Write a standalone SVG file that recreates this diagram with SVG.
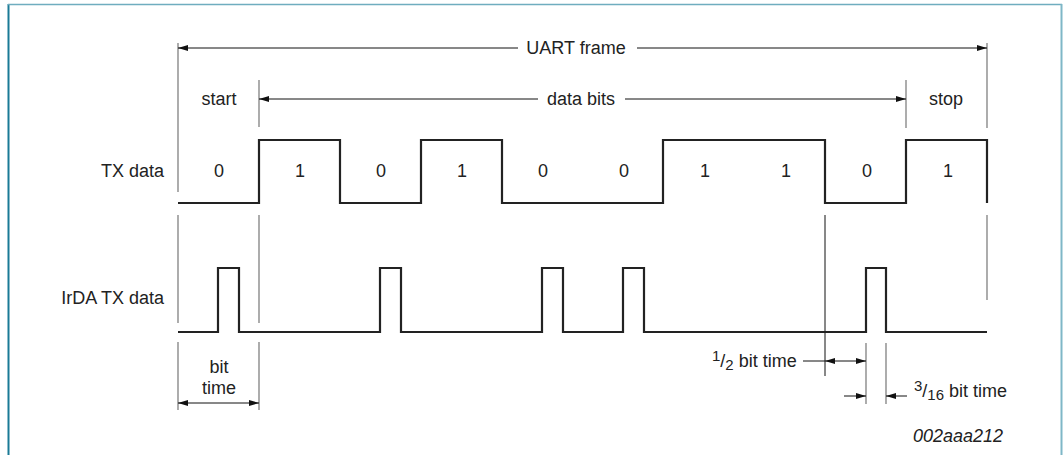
<svg xmlns="http://www.w3.org/2000/svg" width="1063" height="455" viewBox="0 0 1063 455">
<style>
text{font-family:"Liberation Sans",Arial,sans-serif;font-size:18px;fill:#222}
.c{text-anchor:middle}
.r{text-anchor:end}
.sm{font-size:15px}
.guide{stroke:#8a8a8a;stroke-width:1.4;fill:none}
.dim{stroke:#111;stroke-width:1;fill:none}
.wave{stroke:#222;stroke-width:2.2;fill:none;stroke-linejoin:miter}
.arr{stroke:#111;stroke-width:1;fill:none;marker-end:url(#ah)}
.arr2{stroke:#111;stroke-width:1;fill:none;marker-start:url(#ah);marker-end:url(#ah)}
</style>
<defs>
<marker id="ah" viewBox="0 0 10 6" refX="10" refY="3" markerWidth="10" markerHeight="6" markerUnits="userSpaceOnUse" orient="auto-start-reverse">
<path d="M0,0 L10,3 L0,6 z" fill="#111"/>
</marker>
</defs>
<rect width="1063" height="455" fill="#fff"/>
<g id="frame">
<line x1="8.5" y1="4" x2="8.5" y2="455" stroke="#1a7a96" stroke-width="2"/>
<line x1="8" y1="4.5" x2="1062" y2="4.5" stroke="#6fadbf" stroke-width="1.5"/>
<line x1="1061.5" y1="4" x2="1061.5" y2="455" stroke="#7fb7c7" stroke-width="2"/>
</g>
<g id="guides">
<path class="guide" d="M178,43 V192 M178,215 V323 M178,342 V410"/>
<path class="guide" d="M259,80 V127 M259,215 V323 M259,342 V410"/>
<path class="guide" d="M906,80 V128"/>
<path class="guide" d="M987,43 V128 M987,215 V300"/>
<path class="guide" d="M866,343 V404 M886,343 V404"/>
<path class="dim" d="M825,215 V376"/>
</g>
<g id="connectors">
<line class="arr" x1="518" y1="48" x2="178" y2="48"/>
<line class="arr" x1="637" y1="48" x2="987" y2="48"/>
<line class="arr" x1="538" y1="99" x2="259" y2="99"/>
<line class="arr" x1="625" y1="99" x2="906" y2="99"/>
<line class="arr2" x1="178" y1="403" x2="259" y2="403"/>
<line class="dim" x1="803" y1="361" x2="825" y2="361"/>
<line class="arr2" x1="825" y1="361" x2="866" y2="361"/>
<line class="arr" x1="844" y1="396" x2="866" y2="396"/>
<line class="arr" x1="907" y1="396" x2="886" y2="396"/>
</g>
<g id="tx-wave">
<path class="wave" d="M178,203 H259 V140 H340 V203 H421 V140 H502 V203 H663 V140 H825 V203 H906 V140 H987 V203"/>
</g>
<g id="irda-wave">
<path class="wave" d="M178,332 H218 V268 H239 V332 H380 V268 H401 V332 H542 V268 H563 V332 H623 V268 H644 V332 H866 V268 H886 V332 H987"/>
</g>
<g id="labels">
<text class="c" x="576" y="54">UART frame</text>
<text class="c" x="581" y="105">data bits</text>
<text class="c" x="219" y="105">start</text>
<text class="c" x="946" y="105">stop</text>
<text class="r" x="164" y="177">TX data</text>
<text class="r" x="164" y="304">IrDA TX data</text>
<text class="c" x="219" y="177">0</text>
<text class="c" x="300" y="177">1</text>
<text class="c" x="381" y="177">0</text>
<text class="c" x="462" y="177">1</text>
<text class="c" x="543" y="177">0</text>
<text class="c" x="624" y="177">0</text>
<text class="c" x="705" y="177">1</text>
<text class="c" x="786" y="177">1</text>
<text class="c" x="867" y="177">0</text>
<text class="c" x="948" y="177">1</text>
<text class="c" x="219" y="373">bit</text>
<text class="c" x="219" y="394">time</text>
<text x="712" y="366.5"><tspan class="sm" dy="-6">1</tspan><tspan dy="6">/</tspan><tspan class="sm" dy="3">2</tspan><tspan dy="-3"> bit time</tspan></text>
<text x="914" y="396.5"><tspan class="sm" dy="-6">3</tspan><tspan dy="6">/</tspan><tspan class="sm" dy="3">16</tspan><tspan dy="-3"> bit time</tspan></text>
<text x="1003" y="442" text-anchor="end" font-style="italic" font-size="15">002aaa212</text>
</g>
</svg>
